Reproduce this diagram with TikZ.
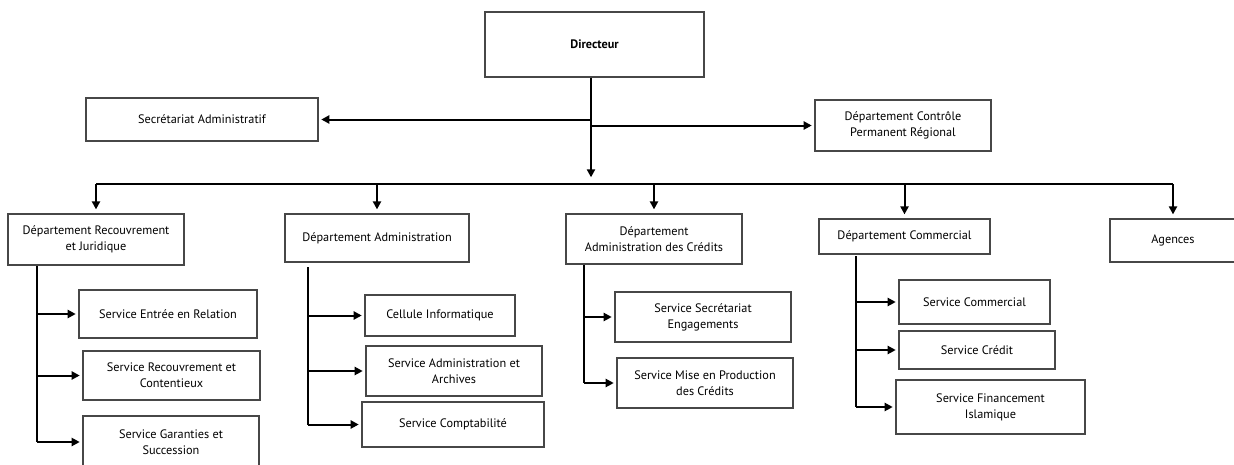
\documentclass[tikz,border=0pt]{standalone}
\usepackage{fontspec}
\setmainfont{PT Sans}
\usepackage{tikz}
\usetikzlibrary{arrows.meta,shadows,calc}
\tikzstyle{box} = [draw=black!72, line width=0.9pt, fill=white, text centered, align=center,
  inner sep=2pt, font=\fontsize{9.2}{12}\selectfont,
  drop shadow={opacity=0.18, shadow xshift=0.8pt, shadow yshift=-0.8pt}]
\tikzstyle{wire} = [draw, line width=1.5pt]
\tikzset{
  boxsize/.style 2 args={box, minimum width=#1*0.75pt, minimum height=#2*0.75pt},
  link/.style ={draw, line width=1.5pt, -{Triangle[length=6pt,width=6pt]}, shorten >=2pt}
}

\begin{document}
\begin{tikzpicture}[x=0.75pt, y=-0.75pt]
 \useasboundingbox (0,0) rectangle (1234,464);

 \node[boxsize={219}{65}, font=\fontsize{9.2}{12}\selectfont\bfseries] (directeur) at (594.5,44.5) {Directeur};
 \node[boxsize={232}{43}] (secretariat) at (202,119.5) {Secrétariat Administratif};
 \node[boxsize={176}{51}] (controle) at (903,125.5) {Département Contrôle\\Permanent Régional};

 \node[boxsize={176}{51}] (recouvrement) at (96,239.5) {Département Recouvrement\\et Juridique};
 \node[boxsize={184}{48}] (administration) at (377,238) {Département Administration};
 \node[boxsize={176}{50}] (credits) at (654,239) {Département\\Administration des Crédits};
 \node[boxsize={171}{35}] (commercial) at (904.5,236.5) {Département Commercial};
 \node[boxsize={126}{43}] (agences) at (1173,240.5) {Agences};

 \node[boxsize={178}{48}] (entree) at (168,314) {Service Entrée en Relation};
 \node[boxsize={177}{49}] (contentieux) at (171.5,375.5) {Service Recouvrement et\\Contentieux};
 \node[boxsize={176}{52}] (garanties) at (171,442) {Service Garanties et\\Succession};

 \node[boxsize={150}{41}] (informatique) at (440,315.5) {Cellule Informatique};
 \node[boxsize={176}{50}] (archives) at (454,371) {Service Administration et\\Archives};
 \node[boxsize={182}{45}] (comptabilite) at (453,424.5) {Service Comptabilité};

 \node[boxsize={176}{50}] (engagements) at (703,317) {Service Secrétariat\\Engagements};
 \node[boxsize={176}{50}] (production) at (705,383) {Service Mise en Production\\des Crédits};

 \node[boxsize={151}{44}] (servcommercial) at (974.5,302) {Service Commercial};
 \node[boxsize={156}{38}] (servcredit) at (977,350) {Service Crédit};
 \node[boxsize={189}{54}] (islamique) at (990.5,407) {Service Financement\\Islamique};

 \coordinate (hub) at (591,184);
 \coordinate (rjtrunk) at (37,266);
 \coordinate (datrunk) at (308,267);
 \coordinate (actrunk) at (584,265);
 \coordinate (dctrunk) at (856,256);

 \path[wire] (recouvrement.north |- hub) -- (agences.north |- hub);
 \path[wire] (rjtrunk) -- (rjtrunk |- garanties.west);
 \path[wire] (datrunk) -- (datrunk |- comptabilite.west);
 \path[wire] (actrunk) -- (actrunk |- production.west);
 \path[wire] (dctrunk) -- (dctrunk |- islamique.west);

 \begin{scope}[every path/.style=link]
   \path[shorten >=5pt] (directeur.south -| hub) -- (hub);
   \path (secretariat.east -| hub) -- (secretariat.east);
   \path (controle.west -| hub) -- (controle.west);
   \foreach \dept in {recouvrement,administration,credits,commercial,agences}
     \path[shorten >=3pt] (\dept.north |- hub) -- (\dept.north);
   \foreach \serv in {entree,contentieux,garanties}
     \path (rjtrunk |- \serv.west) -- (\serv.west);
   \foreach \serv in {informatique,archives,comptabilite}
     \path (datrunk |- \serv.west) -- (\serv.west);
   \foreach \serv in {engagements,production}
     \path (actrunk |- \serv.west) -- (\serv.west);
   \foreach \serv in {servcommercial,servcredit,islamique}
     \path (dctrunk |- \serv.west) -- (\serv.west);
 \end{scope}

\end{tikzpicture}
\end{document}
